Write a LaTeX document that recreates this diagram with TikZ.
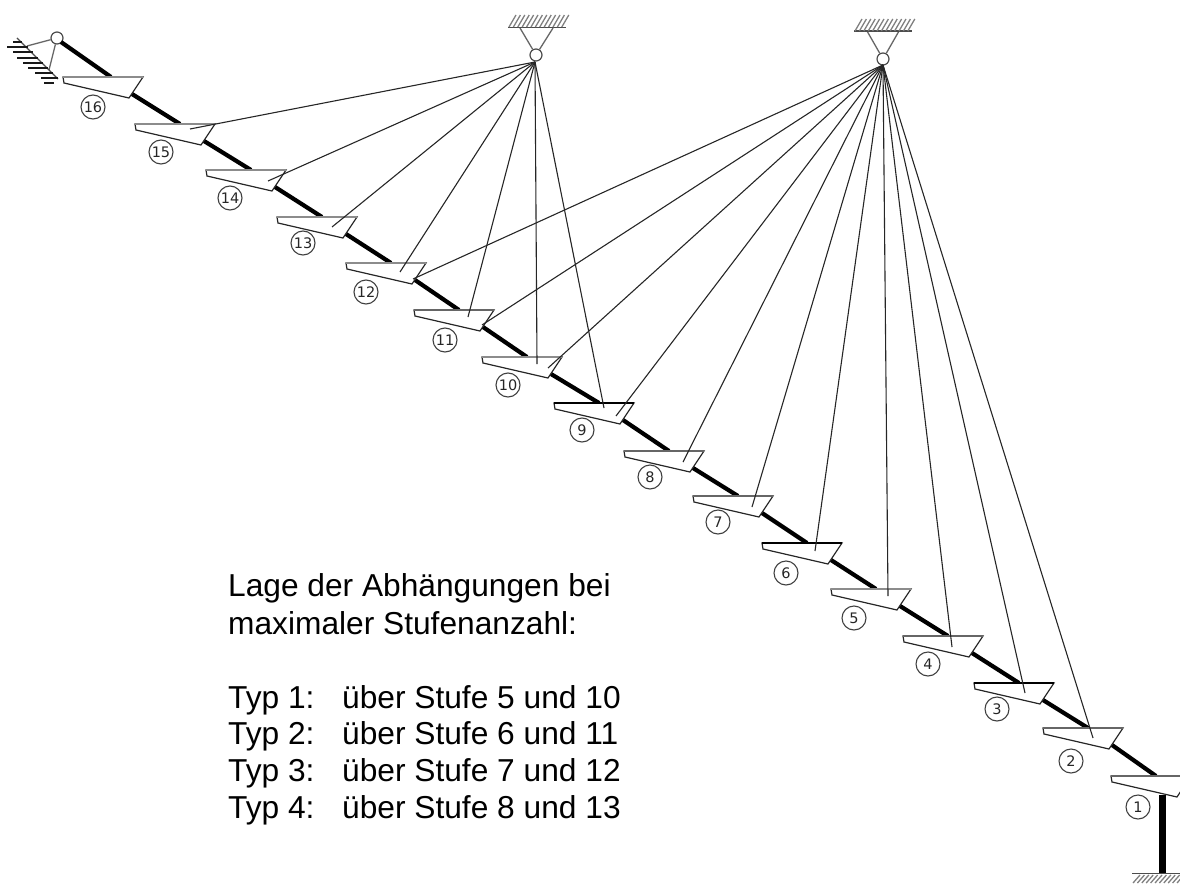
\documentclass[tikz,border=0pt]{standalone}
\usetikzlibrary{calc}
\usepackage{fontspec}
\setmainfont{Liberation Sans}
\newfontfamily\circfont{DejaVu Sans}
\tikzset{
  x=1pt,y=-1pt,
  beam/.style={line width=4.2pt,black},
  rope/.style={line width=1.1pt,black!85},
  stepbody/.style={draw=black!85,line width=1.2pt,fill=white,line join=miter},
  topthick/.style={draw=black!45,line width=2.6pt},
  topmid/.style={draw=black!60,line width=1.9pt},
  topthin/.style={draw=black,line width=1.3pt},
  pinnode/.style={circle,draw=black!70,line width=1.2pt,fill=white,minimum size=12pt,inner sep=0pt},
  strut/.style={line width=1.3pt,black!60},
  groundline/.style={line width=1.6pt,black!70},
  hatchline/.style={line width=1.3pt,black!50},
  hatchbold/.style={line width=1.3pt,black!90},
  numcirc/.style={circle,draw=black!75,line width=1.1pt,minimum size=24pt,inner sep=0pt,font=\circfont\fontsize{14.5}{15}\selectfont,text=black!85},
  caption/.style={anchor=base west,inner sep=0pt,font=\fontsize{31.7}{34}\selectfont,text=black}
}
\begin{document}
\begin{tikzpicture}
\useasboundingbox (0,0) rectangle (1180,883);
\clip (0,0) rectangle (1180,883);

% step positions (top-left corner)
\foreach \n/\px/\py in {16/63/77,15/135/124,14/206/170,13/277/217,12/346/263,11/414/310,10/482/357,9/554/403,8/624/451,7/693/496,6/762/543,5/831/589,4/903/636,3/974/683,2/1043/728,1/1111/776}{
  \coordinate (s\n) at (\px,\py);
}

% supports
\node[pinnode] (pinL) at (57,38) {};
\node[pinnode] (pinA) at (536,55) {};
\node[pinnode] (pinB) at (883,59) {};
\coordinate (La) at (27,46); \coordinate (Lb) at (49,70);
\coordinate (Aa) at (520,28); \coordinate (Ab) at (553,28);
\coordinate (Ba) at (867,31); \coordinate (Bb) at (899,31);
\draw[strut] (pinL) -- (La);
\draw[strut] (pinL) -- (Lb);
\draw[strut] (pinA) -- (Aa);
\draw[strut] (pinA) -- (Ab);
\draw[strut] (pinB) -- (Ba);
\draw[strut] (pinB) -- (Bb);
\draw[groundline] (508,27.5) -- (566,27.5);
\draw[groundline] (854,31) -- (912,31);
\foreach \i in {0,...,12}{
  \draw[hatchline] ({509+4.4*\i},27) -- ({516+4.4*\i},15);
  \draw[hatchline] ({855+4.4*\i},31) -- ({862+4.4*\i},19);
}
\draw[line width=1.1pt,black!70] (17,38) -- (58,79);
\foreach \a/\b/\y in {13/22/42,7/28/47,13/33/52,17/38/58,23/43/63,28/48/68,35/53/73,41/58/78,44/54/83}{
  \draw[hatchbold] (\a,\y) -- (\b,\y);
}

% column and its footing
\coordinate (colTop) at (1162,795);
\coordinate (colFoot) at (1162,873);
\draw[line width=7pt,black] (colTop) -- (colFoot);
\draw[groundline] (1132,873.5) -- (1180,873.5);
\foreach \i in {0,...,11}{
  \draw[hatchline] ({1133+4.4*\i},883) -- ({1140+4.4*\i},875);
}

% stringers
\draw[beam] ($(pinL)+(4,4)$) -- ($(s16)+(48,0)$);
\foreach \a/\b in {16/15,15/14,14/13,13/12,12/11,11/10,10/9,9/8,8/7,7/6,6/5,5/4,4/3,3/2,2/1}{
  \draw[beam] ($(s\a)+(69,17)$) -- ($(s\b)+(45,0)$);
}

% treads
\foreach \n/\t in {16/topthick,15/topthick,14/topthick,13/topthick,12/topthick,11/topmid,10/topthick,9/topthin,8/topmid,7/topmid,6/topthin,5/topthick,4/topmid,3/topthin,2/topmid,1/topmid}{
  \path[stepbody] (s\n) -- ($(s\n)+(80,0)$) -- ($(s\n)+(66,21)$) -- ($(s\n)+(1,6)$) -- cycle;
  \draw[\t] (s\n) -- ($(s\n)+(80,0)$);
}

% hangers
\coordinate (hubA) at (535,62);
\coordinate (hubB) at (883,65);
\foreach \x/\y in {190/129,268/181,332/227,400/272,468/317,537/364,604/408}{
  \draw[rope] (hubA) -- (\x,\y);
}
\foreach \x/\y in {413/279,482/325,548/368,616/416,683/462,752/507,815/551,888/596,952/647,1025/693,1093/738}{
  \draw[rope] (hubB) -- (\x,\y);
}

% step numbers
\foreach \n/\x/\y in {16/93/107,15/161/152,14/230/198,13/303/243,12/366/292,11/445/340,10/508/385,9/582/430,8/650/477,7/718/522,6/786/573,5/854/618,4/928/664,3/997/709,2/1071/761,1/1138/807}{
  \node[numcirc] (c\n) at (\x,\y) {\n};
}

% caption
\node[caption] (cap1) at (228,596) {Lage der Abhängungen bei};
\node[caption] (cap2) at (228,634) {maximaler Stufenanzahl:};
\foreach \k/\y/\u/\v in {1/708/5/10,2/744/6/11,3/781/7/12,4/818/8/13}{
  \node[caption] (typ\k) at (228,\y) {Typ \k:};
  \node[caption] (lage\k) at (342,\y) {über Stufe \u{} und \v};
}
\end{tikzpicture}
\end{document}
